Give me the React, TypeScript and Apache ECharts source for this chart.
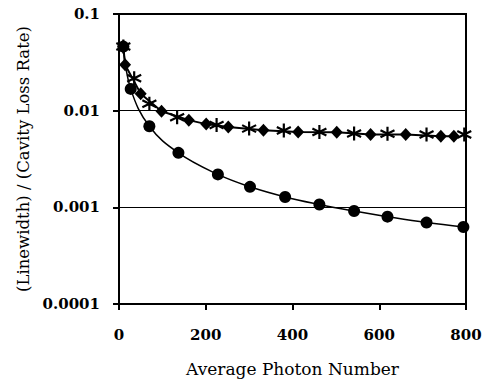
import React, { useEffect, useRef } from "react";
import * as echarts from "echarts";

const circleX = [10, 27, 70, 137, 228, 302, 383, 462, 542, 619, 709, 794];
const circleY = [0.046, 0.0168, 0.00689, 0.00366, 0.00219, 0.00163, 0.00128, 0.00107, 0.000916, 0.000801, 0.000695, 0.000626];

const diamondX = [10, 14, 50, 98, 161, 201, 252, 333, 413, 502, 580, 661, 742, 772];
const diamondY = [0.046, 0.0298, 0.015, 0.00985, 0.00798, 0.00726, 0.00679, 0.00627, 0.00603, 0.00597, 0.00566, 0.00566, 0.00543, 0.00543];

const starX = [10, 35, 70, 134, 225, 300, 380, 462, 542, 619, 709, 796];
const starY = [0.046, 0.0217, 0.0118, 0.00853, 0.0071, 0.00652, 0.00622, 0.00603, 0.0058, 0.00576, 0.00566, 0.00566];

const xTicks = [0, 200, 400, 600, 800];
const yTickLabels = ["0.0001", "0.001", "0.01", "0.1"];

const STAR = "path://M0,-1L0,1M-0.87,-0.5L0.87,0.5M-0.87,0.5L0.87,-0.5";

export default function App() {
  const ref = useRef<HTMLDivElement>(null);
  useEffect(() => {
    if (!ref.current) return;
    const chart = echarts.init(ref.current, null, { renderer: "svg" });
    const zip = (xs: number[], ys: number[]) => xs.map((x, i) => [x, ys[i]]);
    chart.setOption({
      animation: false,
      backgroundColor: "#fff",
      grid: {
        left: 119,
        right: 21,
        top: 14,
        bottom: 77,
        show: true,
        borderColor: "#000",
        borderWidth: 2,
      },
      xAxis: {
        type: "value",
        min: xTicks[0],
        max: xTicks[xTicks.length - 1],
        interval: 200,
        name: "Average Photon Number",
        nameLocation: "middle",
        nameGap: 56,
        nameTextStyle: { fontFamily: "DejaVu Serif", fontSize: 17, color: "#000" },
        axisLine: { show: true, lineStyle: { color: "#000", width: 2 } },
        axisTick: { show: true, inside: false, length: 6, lineStyle: { color: "#000", width: 2 } },
        axisLabel: {
          margin: 23,
          fontFamily: "DejaVu Serif",
          fontWeight: "bold",
          fontSize: 15,
          color: "#000",
        },
        splitLine: { show: false },
      },
      yAxis: {
        type: "log",
        logBase: 10,
        min: 0.0001,
        max: 0.1,
        name: "(Linewidth) / (Cavity Loss Rate)",
        nameLocation: "middle",
        nameGap: 80,
        nameRotate: 90,
        nameTextStyle: { fontFamily: "DejaVu Serif", fontSize: 16.5, color: "#000" },
        axisLine: { show: true, lineStyle: { color: "#000", width: 2 } },
        axisTick: { show: true, inside: false, length: 6, lineStyle: { color: "#000", width: 2 } },
        axisLabel: {
          margin: 19,
          fontFamily: "DejaVu Serif",
          fontWeight: "bold",
          fontSize: 15,
          color: "#000",
          formatter: (v: number) => {
            const e = Math.round(Math.log10(v));
            return yTickLabels[e + 4] ?? String(v);
          },
        },
        splitLine: { show: true, lineStyle: { color: "#000", width: 1 } },
        minorTick: { show: false },
      },
      series: [
        {
          type: "line",
          data: zip(circleX, circleY),
          smooth: 0.4,
          symbol: "circle",
          symbolSize: 12,
          itemStyle: { color: "#000" },
          lineStyle: { color: "#000", width: 1.5 },
          z: 3,
        },
        {
          type: "line",
          data: zip(diamondX, diamondY),
          symbol: "diamond",
          symbolSize: [12, 13],
          itemStyle: { color: "#000" },
          lineStyle: { color: "#000", width: 2 },
          z: 4,
        },
        {
          type: "scatter",
          data: zip(starX, starY),
          symbol: STAR,
          symbolSize: 14,
          itemStyle: { color: "none", borderColor: "#000", borderWidth: 2.2, opacity: 1 },
          z: 5,
        },
      ],
    });
    return () => chart.dispose();
  }, []);
  return (
    <div
      ref={ref}
      style={{ position: "absolute", left: 0, top: 0, width: 487, height: 382 }}
    />
  );
}
